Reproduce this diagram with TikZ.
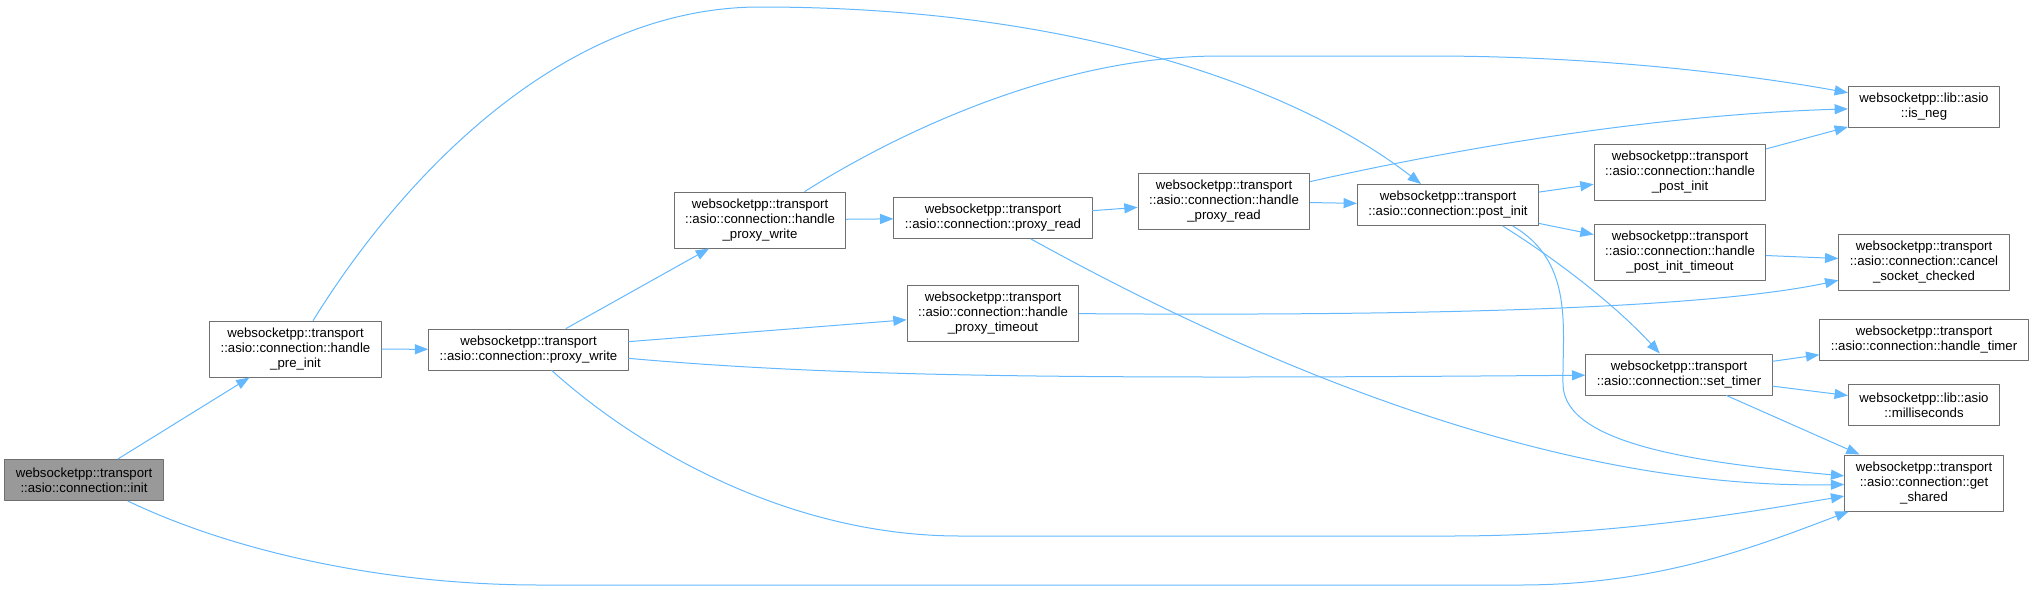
\documentclass[tikz,border=0pt]{standalone}
\usepackage{fontspec}
\setmainfont{Liberation Sans}
\usepackage{xcolor}
\usepackage{tikz}
\usetikzlibrary{arrows.meta}
\definecolor{edgeblue}{HTML}{63B8FF}
\definecolor{boxline}{HTML}{707070}
\definecolor{rootfill}{HTML}{999999}
\tikzset{
  fn/.style={rectangle, draw=boxline, fill=white, line width=0.75pt, align=center,
    inner xsep=8.25pt, inner ysep=2pt, minimum height=30.75pt,
    font=\fontsize{9.9pt}{11.25pt}\selectfont},
  fnthree/.style={fn, minimum height=42pt},
  root/.style={fn, fill=rootfill},
  call/.style={draw=edgeblue, line width=0.75pt, -{Triangle[length=10pt,width=7.5pt]}},
  every picture/.style={line cap=round, line join=round}
}
\begin{document}
\begin{tikzpicture}[x=0.75pt,y=-0.75pt]
  \useasboundingbox (0,0) rectangle (2033,589);
  \node[root] (init) at (84,480) {websocketpp::transport\\::asio::connection::init};
  \node[fnthree] (hpreinit) at (295.5,349) {websocketpp::transport\\::asio::connection::handle\\\_pre\_init};
  \node[fn] (pwrite) at (528.5,349.5) {websocketpp::transport\\::asio::connection::proxy\_write};
  \node[fnthree] (hpwrite) at (760,220) {websocketpp::transport\\::asio::connection::handle\\\_proxy\_write};
  \node[fn] (pread) at (993,218) {websocketpp::transport\\::asio::connection::proxy\_read};
  \node[fnthree] (hptimeout) at (993,313) {websocketpp::transport\\::asio::connection::handle\\\_proxy\_timeout};
  \node[fnthree] (hpread) at (1224,201) {websocketpp::transport\\::asio::connection::handle\\\_proxy\_read};
  \node[fn] (postinit) at (1448,205) {websocketpp::transport\\::asio::connection::post\_init};
  \node[fnthree] (hpostinit) at (1680,172) {websocketpp::transport\\::asio::connection::handle\\\_post\_init};
  \node[fnthree] (hpitimeout) at (1680,252) {websocketpp::transport\\::asio::connection::handle\\\_post\_init\_timeout};
  \node[fn] (settimer) at (1679,374.5) {websocketpp::transport\\::asio::connection::set\_timer};
  \node[fn] (isneg) at (1924,106.5) {websocketpp::lib::asio\\::is\_neg};
  \node[fnthree] (cancel) at (1924,262) {websocketpp::transport\\::asio::connection::cancel\\\_socket\_checked};
  \node[fn] (htimer) at (1924,340) {websocketpp::transport\\::asio::connection::handle\_timer};
  \node[fn] (millis) at (1924,405) {websocketpp::lib::asio\\::milliseconds};
  \node[fnthree] (getshared) at (1924,483) {websocketpp::transport\\::asio::connection::get\\\_shared};

  \draw[call] (init) -- (hpreinit);
  \draw[call] (init) .. controls (230,550) and (380,585) .. (540,585) -- (1520,585)
    .. controls (1660,585) and (1760,545) .. (getshared);
  \draw[call] (hpreinit) -- (pwrite);
  \draw[call] (hpreinit) .. controls (400,180) and (560,7) .. (760,7)
    .. controls (1080,7) and (1300,90) .. (postinit);
  \draw[call] (pwrite) -- (hpwrite);
  \draw[call] (pwrite) -- (hptimeout);
  \draw[call] (pwrite) .. controls (850,378) and (1100,379) .. (settimer);
  \draw[call] (pwrite) .. controls (640,450) and (790,536) .. (960,536) -- (1450,536)
    .. controls (1620,536) and (1760,510) .. (getshared);
  \draw[call] (hpwrite) -- (pread);
  \draw[call] (hpwrite) .. controls (870,150) and (1040,56) .. (1220,56) -- (1430,56)
    .. controls (1600,56) and (1750,75) .. (isneg);
  \draw[call] (pread) -- (hpread);
  \draw[call] (pread) .. controls (1250,360) and (1550,490) .. (getshared);
  \draw[call] (hpread) -- (postinit);
  \draw[call] (hpread) .. controls (1450,150) and (1650,115) .. (isneg);
  \draw[call] (hptimeout) .. controls (1400,316) and (1700,310) .. (cancel);
  \draw[call] (postinit) -- (hpostinit);
  \draw[call] (postinit) -- (hpitimeout);
  \draw[call] (postinit.-21) .. controls (1565,265) and (1620,310) .. (settimer);
  \draw[call] (postinit.-18) .. controls (1575,262) and (1562,330) .. (1563,385)
    .. controls (1565,445) and (1700,463) .. (getshared);
  \draw[call] (hpostinit) -- (isneg);
  \draw[call] (hpitimeout) -- (cancel);
  \draw[call] (settimer) -- (htimer);
  \draw[call] (settimer) -- (millis);
  \draw[call] (settimer) -- (getshared);
\end{tikzpicture}
\end{document}
